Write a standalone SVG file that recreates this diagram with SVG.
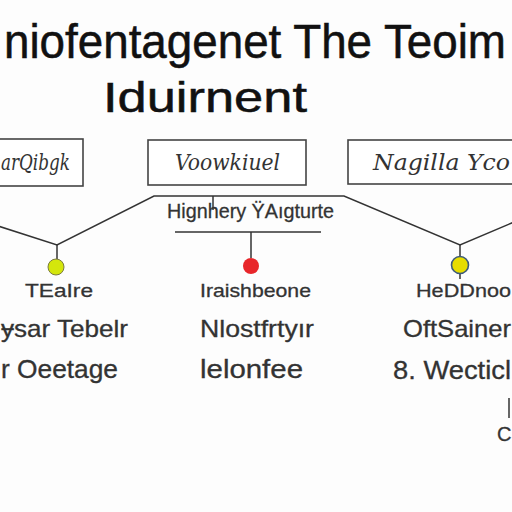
<svg xmlns="http://www.w3.org/2000/svg" width="512" height="512" viewBox="0 0 512 512">
<style>
.title{font-family:"Liberation Sans",Arial,sans-serif;fill:#111;stroke:#111;stroke-width:0.5;}
.box{fill:#fff;stroke:#444;stroke-width:1.6;}
.hand{font-family:"DejaVu Serif",serif;font-style:italic;fill:#333;font-size:22px;}
.lbl{font-family:"Liberation Sans",Arial,sans-serif;fill:#333;stroke:#333;stroke-width:0.3;}
.ln{fill:none;stroke:#333;stroke-width:1.5;}
</style>
<rect width="512" height="512" fill="#fdfdfd"/>
<g id="title">
<text class="title" transform="translate(0,58) scale(1,1.07)" x="4" y="0" font-size="45" textLength="502" lengthAdjust="spacingAndGlyphs">niofentagenet The Teoim</text>
<text class="title" x="103" y="112" font-size="42" textLength="204" lengthAdjust="spacingAndGlyphs">Iduirnent</text>
</g>
<g id="connectors">
<polyline class="ln" points="-2,226 57,245 154,196 344,196 460,245 514,222"/>
<line class="ln" x1="213" y1="196" x2="213" y2="210"/>
<line class="ln" x1="175" y1="232" x2="321" y2="232"/>
<line class="ln" x1="57" y1="245" x2="57" y2="259"/>
<line class="ln" x1="251" y1="232" x2="251" y2="258"/>
<line class="ln" x1="460" y1="245" x2="460" y2="256"/>
<line class="ln" x1="460" y1="274" x2="460" y2="279"/>
<line class="ln" x1="509" y1="398" x2="509" y2="418"/>
</g>
<g id="box-left">
<rect class="box" x="-4" y="139" width="87" height="47"/>
<text class="hand" x="1" y="170" textLength="69" lengthAdjust="spacingAndGlyphs">arQibgk</text>
</g>
<g id="box-middle">
<rect class="box" x="148" y="140" width="158" height="45"/>
<text class="hand" x="175" y="170" textLength="105" lengthAdjust="spacingAndGlyphs">Voowkiuel</text>
</g>
<g id="box-right">
<rect class="box" x="348" y="140" width="170" height="44"/>
<text class="hand" x="373" y="170" textLength="137" lengthAdjust="spacingAndGlyphs">Nagilla Yco</text>
</g>
<g id="subtitle">
<text class="lbl" x="167" y="218" font-size="21" textLength="167" lengthAdjust="spacingAndGlyphs">Hignhery ŸAıgturte</text>
</g>
<g id="node-left">
<circle cx="56" cy="267" r="8" fill="#d4e60c" stroke="#7a7a40" stroke-width="1"/>
<text class="lbl" x="25" y="297" font-size="19" textLength="68" lengthAdjust="spacingAndGlyphs">TEaIre</text>
<text class="lbl" x="1" y="337" font-size="24" textLength="127" lengthAdjust="spacingAndGlyphs">ɏsar Tebelr</text>
<text class="lbl" x="1" y="378" font-size="25" textLength="117" lengthAdjust="spacingAndGlyphs">r Oeetage</text>
</g>
<g id="node-middle">
<circle cx="251" cy="266" r="8" fill="#e8262a"/>
<text class="lbl" x="200" y="297" font-size="19" textLength="111" lengthAdjust="spacingAndGlyphs">Iraishbeone</text>
<text class="lbl" x="200" y="337" font-size="24" textLength="114" lengthAdjust="spacingAndGlyphs">Nlostfrtyır</text>
<text class="lbl" x="200" y="378" font-size="25" textLength="103" lengthAdjust="spacingAndGlyphs">lelonfee</text>
</g>
<g id="node-right">
<circle cx="460" cy="265" r="8.5" fill="#e6dc00" stroke="#3c5a7a" stroke-width="1.6"/>
<text class="lbl" x="416" y="297" font-size="19" textLength="95" lengthAdjust="spacingAndGlyphs">HeDDnoo</text>
<text class="lbl" x="403" y="337" font-size="24" textLength="108" lengthAdjust="spacingAndGlyphs">OftSainer</text>
<text class="lbl" x="393" y="379" font-size="25" textLength="118" lengthAdjust="spacingAndGlyphs">8. Wecticl</text>
<text class="lbl" x="497" y="441" font-size="20">C</text>
</g>
</svg>
